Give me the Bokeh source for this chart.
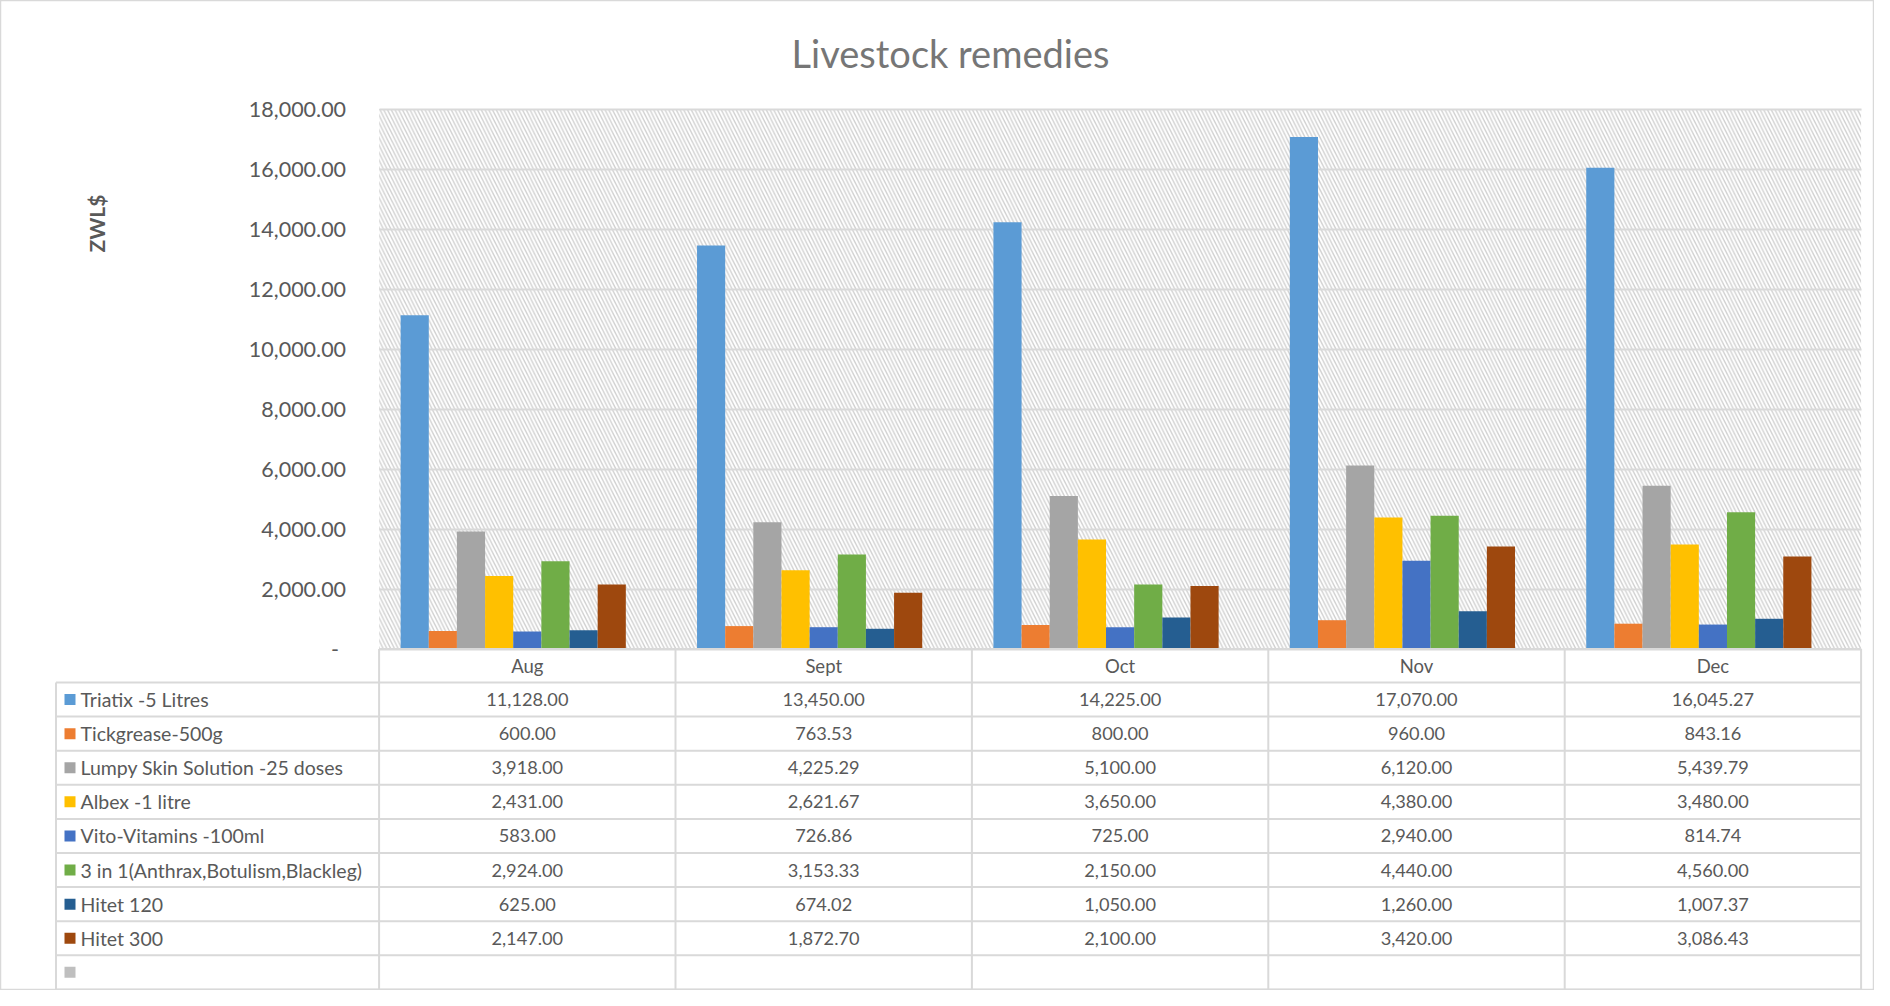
from math import pi
from bokeh.plotting import figure
from bokeh.models import (Range1d, ColumnDataSource, BoxAnnotation, LinearAxis, Grid,
                          SingleIntervalTicker, CustomJSTickFormatter)
from bokeh.transform import dodge
from bokeh.embed import file_html
from bokeh.resources import INLINE
from bokeh.core.properties import value

# ---------------- data ----------------
months = ["Aug", "Sept", "Oct", "Nov", "Dec"]
series = ["Triatix -5 Litres", "Tickgrease-500g", "Lumpy Skin Solution -25 doses",
          "Albex -1 litre", "Vito-Vitamins -100ml", "3 in 1(Anthrax,Botulism,Blackleg)",
          "Hitet 120", "Hitet 300"]
triatix = [11128.00, 13450.00, 14225.00, 17070.00, 16045.27]
tickgrease = [600.00, 763.53, 800.00, 960.00, 843.16]
lumpy = [3918.00, 4225.29, 5100.00, 6120.00, 5439.79]
albex = [2431.00, 2621.67, 3650.00, 4380.00, 3480.00]
vito = [583.00, 726.86, 725.00, 2940.00, 814.74]
three_in_one = [2924.00, 3153.33, 2150.00, 4440.00, 4560.00]
hitet120 = [625.00, 674.02, 1050.00, 1260.00, 1007.37]
hitet300 = [2147.00, 1872.70, 2100.00, 3420.00, 3086.43]
values = [triatix, tickgrease, lumpy, albex, vito, three_in_one, hitet120, hitet300]
colors = ["#5B9BD5", "#ED7D31", "#A5A5A5", "#FFC000", "#4472C4", "#70AD47", "#255E91", "#9E480E"]
empty_series_color = "#BFBFBF"
title_text = "Livestock remedies"
y_title = "ZWL$"
y_max = 18000
y_step = 2000

FONT = "Lato"
TXT = "#595959"
GRID = "#d9d9d9"

# ---------------- geometry (pixels) ----------------
W, H = 1874, 990
PLOT_L, PLOT_R = 378.6, 1860.6
PLOT_T, PLOT_B = 108.5, 648.5
col_px = (PLOT_R - PLOT_L) / len(months)
px_per_unit = (PLOT_B - PLOT_T) / y_max

x_start = -PLOT_L / col_px
x_end = (W - PLOT_L) / col_px
y_start = -(H - PLOT_B) / px_per_unit
y_end = y_max + PLOT_T / px_per_unit

p = figure(width=W, height=H, x_range=Range1d(x_start, x_end),
           y_range=Range1d(y_start, y_end), x_axis_location=None, y_axis_location=None,
           output_backend="svg", toolbar_location=None, min_border=0)
p.outline_line_color = "#d9d9d9"
p.outline_line_width = 1.5
p.grid.visible = False
# table / annotation range: pixels below the plot bottom (downwards)
p.extra_y_ranges = {"tbl": Range1d(H - PLOT_B, -PLOT_B)}

n_months = len(months)

# hatched plot area
hatch = BoxAnnotation(left=0, right=n_months, bottom=0, top=y_max, fill_color="white",
                      fill_alpha=1.0, line_color=None, hatch_pattern="\\",
                      hatch_color="#d0d0d0", hatch_scale=7.5, hatch_weight=1.4,
                      level="underlay")
p.add_layout(hatch)

# y axis and grid
ticker = SingleIntervalTicker(interval=y_step, num_minor_ticks=0)
yaxis = LinearAxis(ticker=ticker, fixed_location=0, bounds=(0, y_max))
yaxis.formatter = CustomJSTickFormatter(code="""
if (tick == 0) { return "-\u2004"; }
return tick.toLocaleString('en-US', {minimumFractionDigits: 2, maximumFractionDigits: 2});
""")
yaxis.axis_line_color = None
yaxis.major_tick_line_color = None
yaxis.minor_tick_line_color = None
yaxis.major_label_standoff = 27
yaxis.major_label_text_font = FONT
yaxis.major_label_text_font_size = "21.5px"
yaxis.major_label_text_color = TXT
p.add_layout(yaxis, "left")

grid = Grid(dimension=1, ticker=ticker, bounds=(0, y_max), grid_line_color=GRID,
            grid_line_width=1.8, level="underlay")
try:
    grid.cross_bounds = (0, n_months)
except Exception:
    pass
p.add_layout(grid)

# bars
gap_ratio = 1.53
slots = len(series) + 1           # 8 series + one empty series
bar_w = 1.0 / (slots + gap_ratio)
src = ColumnDataSource(dict(mx=[i + 0.5 for i in range(n_months)],
                            **{f"s{i}": v for i, v in enumerate(values)}))
for i, c in enumerate(colors):
    off = (i - (slots - 1) / 2) * bar_w
    p.vbar(x=dodge("mx", off), top=f"s{i}", bottom=0, width=bar_w, source=src,
           fill_color=c, line_color=None)

# title and y-axis title
p.text(x=[(950 - PLOT_L) / col_px], y=[-(PLOT_B - 52)], y_range_name="tbl",
       text=[title_text], text_font=value(FONT), text_font_size="38px",
       text_color="#767676", text_align="center", text_baseline="middle")
p.text(x=[(96 - PLOT_L) / col_px], y=[-(PLOT_B - 223)], y_range_name="tbl",
       text=[y_title], angle=pi / 2, text_font=value(FONT), text_font_size="21px",
       text_font_style="bold", text_color=TXT, text_align="center",
       text_baseline="middle")

# ---------------- data table ----------------
tab_left = (55.5 - PLOT_L) / col_px
hdr_h = 33.5
row_h = 34.1
n_rows = len(series) + 1

x0, y0, x1, y1 = [], [], [], []
x0.append(0); x1.append(n_months); y0.append(0); y1.append(0)
for k in range(n_rows + 1):
    yy = hdr_h + k * row_h
    x0.append(tab_left); x1.append(n_months); y0.append(yy); y1.append(yy)
bottom = hdr_h + n_rows * row_h
x0.append(tab_left); x1.append(tab_left); y0.append(hdr_h); y1.append(bottom)
for k in range(n_months + 1):
    x0.append(k); x1.append(k); y0.append(0); y1.append(bottom)
p.segment(x0=x0, y0=y0, x1=x1, y1=y1, y_range_name="tbl", line_color=GRID, line_width=2)

p.text(x=[i + 0.5 for i in range(n_months)], y=[hdr_h / 2 + 0.5] * n_months,
       y_range_name="tbl", text=months, text_font=value(FONT), text_font_size="18.5px",
       text_color=TXT, text_align="center", text_baseline="middle")

row_y = [hdr_h + (i + 0.5) * row_h for i in range(n_rows)]
p.scatter(x=[(69.5 - PLOT_L) / col_px] * n_rows, y=row_y, y_range_name="tbl",
          marker="square", size=11, fill_color=colors + [empty_series_color],
          line_color=None)
p.text(x=[(80 - PLOT_L) / col_px] * len(series), y=row_y[:len(series)], y_range_name="tbl",
       text=series, text_font=value(FONT), text_font_size="19.5px", text_color=TXT,
       text_align="left", text_baseline="middle")

vx, vy, vt = [], [], []
for i, vals in enumerate(values):
    for j, v in enumerate(vals):
        vx.append(j + 0.5)
        vy.append(row_y[i])
        vt.append(f"{v:,.2f}")
p.text(x=vx, y=vy, y_range_name="tbl", text=vt, text_font=value(FONT),
       text_font_size="18.2px", text_color=TXT, text_align="center", text_baseline="middle")

open("out.html", "w").write(file_html(p, INLINE))
